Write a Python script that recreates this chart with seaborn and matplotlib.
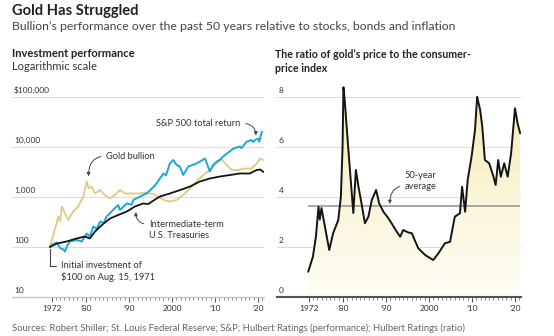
import numpy as np
import pandas as pd
import matplotlib
matplotlib.use("Agg")
import matplotlib.pyplot as plt
import matplotlib.transforms as mtransforms
from matplotlib.colors import LinearSegmentedColormap
import seaborn as sns

# ---------------- data ----------------
sp_years = [1971.6, 1972.4, 1973.2, 1974.0, 1974.8, 1975.1, 1975.7, 1976.3, 1977.8, 1979.0, 1980.2, 1980.9, 1981.7,
            1982.5, 1983.3, 1984.1, 1984.8, 1986.3, 1987.5, 1987.9, 1988.7, 1989.5, 1990.6, 1991.0, 1992.6, 1994.1, 1995.7,
            1996.4, 1998.0, 1998.6, 1999.5, 2000.3, 2001.1, 2001.8, 2002.6, 2003.8, 2005.7, 2007.7, 2008.8,
            2009.5, 2010.4, 2011.2, 2011.9, 2014.3, 2015.8, 2016.2, 2017.4, 2018.5, 2018.9, 2019.3, 2020.1, 2020.3, 2020.9]
sp_values = [100, 115, 123, 95, 89, 81, 110, 129, 138, 129, 186, 162, 257,
             230, 324, 300, 407, 550, 692, 550, 640, 741, 700, 871, 1023, 1175, 1585,
             1862, 2951, 2700, 4677, 5495, 4365, 4100, 2754, 4074, 4677, 5888, 3236,
             4300, 5129, 5600, 6457, 9333, 10233, 9500, 12882, 13804, 12600, 13804, 14791, 12800, 20417]

gold_years = [1971.6, 1972.4, 1973.6, 1974.0, 1974.4, 1975.1, 1975.9, 1977.0, 1978.2, 1979.4, 1980.2,
              1980.6, 1981.3, 1982.1, 1983.3, 1984.4, 1985.6, 1986.7, 1987.9, 1989.1, 1990.6, 1992.2,
              1994.1, 1996.0, 1998.0, 1999.5, 2001.1, 2002.6, 2004.2, 2005.7, 2007.3, 2008.8,
              2010.4, 2011.6, 2012.7, 2013.9, 2015.4, 2017.0, 2018.5, 2019.7, 2020.5, 2021.2]
gold_values = [100, 174, 407, 330, 646, 468, 347, 513, 646, 1023, 2042,
               1500, 1622, 1175, 1380, 1096, 933, 1096, 1380, 1175, 1175, 1175,
               1230, 1122, 871, 813, 871, 1096, 1479, 2042, 2754, 3467,
               4677, 5623, 4365, 3467, 3467, 3715, 3715, 4677, 5888, 5495]

tsy_years = [1971.6, 1973.2, 1975.5, 1977.8, 1979.8, 1980.9, 1982.1, 1983.7, 1985.6, 1987.5,
             1989.5, 1991.4, 1993.3, 1994.5, 1995.7, 1997.2, 1999.5, 2001.9, 2004.2, 2006.5,
             2008.8, 2011.2, 2013.5, 2015.8, 2018.1, 2019.7, 2020.5, 2021.3]
tsy_values = [100, 117, 129, 148, 162, 148, 204, 275, 372, 437,
              513, 646, 741, 724, 851, 1023, 1175, 1380, 1622, 2042,
              2344, 2570, 2754, 2951, 2951, 3467, 3548, 3162]

ratio_years = [1971.9, 1973.0, 1973.7, 1974.3, 1974.6, 1975.0, 1975.8, 1976.8, 1977.7, 1978.9, 1979.5,
               1979.9, 1980.1, 1980.4, 1981.2, 1981.8, 1982.4, 1983.0, 1983.6, 1984.3, 1985.1,
               1985.9, 1986.7, 1987.7, 1988.4, 1989.4, 1990.3, 1991.3, 1992.5, 1993.3, 1994.0,
               1995.2, 1996.0, 1997.5, 1999.1, 2001.0, 2002.2, 2003.7, 2004.9, 2006.0, 2007.2,
               2007.7, 2008.4, 2009.0, 2009.9, 2010.7, 2011.2, 2011.9, 2012.4, 2013.0, 2014.0,
               2015.0, 2015.5, 2016.1, 2016.7, 2017.5, 2018.3, 2019.1, 2020.0, 2020.6, 2021.2]
ratio_values = [1.01, 1.61, 2.41, 3.61, 3.1, 3.56, 2.81, 1.88, 2.55, 3.08, 4.0,
                6.0, 8.39, 7.88, 6.0, 4.68, 3.36, 5.08, 4.41, 3.75, 2.95,
                3.21, 3.88, 4.28, 3.75, 3.41, 3.21, 2.95, 2.61, 2.41, 2.68,
                2.58, 2.55, 1.95, 1.68, 1.48, 1.75, 2.15, 2.21, 3.21, 3.35,
                4.41, 3.41, 4.68, 5.61, 6.68, 8.01, 7.48, 6.81, 5.48, 5.35,
                4.81, 4.48, 5.48, 4.81, 5.35, 4.81, 5.75, 7.55, 6.95, 6.55]
ratio_average = 3.64

left_ticks = [100, 1000, 10000, 100000]
left_tick_labels = ["100", "1,000", "10,000", "$100,000"]
right_ticks = [0, 2, 4, 6, 8]
right_tick_labels = ["0", "2", "4", "6", "8"]
x_major = [1972, 1980, 1990, 2000, 2010, 2020]
x_major_labels = ["1972", "\u201980", "\u201990", "2000", "\u201910", "\u201920"]

# ---------------- styling ----------------
sns.set_theme(style="white")
plt.rcParams['font.family'] = ['Lato', 'DejaVu Sans']

BLUE = "#1ea5dc"
GOLD = "#e2c97e"
BLACK = "#141414"
TXT = "#333333"

W, H = 554, 336
fig = plt.figure(figsize=(W / 100, H / 100), dpi=100)


def rect(x0, y0, x1, y1):
    return [x0 / W, 1 - y1 / H, (x1 - x0) / W, (y1 - y0) / H]


ax1 = fig.add_axes(rect(12, 97, 264, 297))
ax2 = fig.add_axes(rect(277, 84.5, 521, 297))

# ---------------- left panel ----------------
df_sp = pd.DataFrame({"year": sp_years, "value": sp_values})
df_gold = pd.DataFrame({"year": gold_years, "value": gold_values})
df_tsy = pd.DataFrame({"year": tsy_years, "value": tsy_values})

ax1.set_yscale("log")
sns.lineplot(data=df_gold, x="year", y="value", ax=ax1, color=GOLD, lw=1.3, zorder=3)
sns.lineplot(data=df_sp, x="year", y="value", ax=ax1, color=BLUE, lw=1.4, zorder=4)
sns.lineplot(data=df_tsy, x="year", y="value", ax=ax1, color=BLACK, lw=1.3, zorder=5)
ax1.set_ylim(10, 100000)
ax1.set_xlim(1962.8, 2021.4)
ax1.set_yticks(left_ticks)
ax1.yaxis.set_minor_locator(matplotlib.ticker.NullLocator())
ax1.set_yticklabels([])
ax1.tick_params(axis="y", length=0)
ax1.grid(axis="y", color="#dcdcdc", lw=0.8)
ax1.set_xlabel("")
ax1.set_ylabel("")
for s in ["left", "right", "top"]:
    ax1.spines[s].set_visible(False)
ax1.spines["bottom"].set_color("#c4c4c4")
ax1.spines["bottom"].set_linewidth(1.0)

tr1 = mtransforms.blended_transform_factory(ax1.transAxes, ax1.transData)
for v, lab in zip(left_ticks + [10], left_tick_labels + ["10"]):
    ax1.annotate(lab, xy=(0.008, v), xycoords=tr1, xytext=(0, 2.2), textcoords="offset points",
                 ha="left", va="bottom", fontsize=6, color=TXT, annotation_clip=False)

# ---------------- right panel ----------------
df_ratio = pd.DataFrame({"year": ratio_years, "ratio": ratio_values})
poly = ax2.fill_between(ratio_years, ratio_values, 0, color="none", lw=0)
grad = np.linspace(0, 1, 256).reshape(-1, 1)
cmap = LinearSegmentedColormap.from_list("g", ["#fefdf5", "#fbf5d8", "#f6e9ad"])
img = ax2.imshow(grad, extent=[ratio_years[0], ratio_years[-1], 0, max(ratio_values)],
                 origin="lower", aspect="auto", cmap=cmap, zorder=1)
img.set_clip_path(poly.get_paths()[0], transform=ax2.transData)
ax2.hlines(ratio_average, ratio_years[0], ratio_years[-1], color="#9a9a9a", lw=1.2, zorder=2)
sns.lineplot(data=df_ratio, x="year", y="ratio", ax=ax2, color=BLACK, lw=1.4, zorder=5)
ax2.set_xlim(1964.65, 2021.4)
ax2.set_ylim(0, 8.5)
ax2.set_yticks(right_ticks[1:])
ax2.set_yticklabels([])
ax2.tick_params(axis="y", length=0)
ax2.grid(axis="y", color="#dcdcdc", lw=0.8)
ax2.set_xlabel("")
ax2.set_ylabel("")
for s in ["left", "right", "top"]:
    ax2.spines[s].set_visible(False)
ax2.spines["bottom"].set_color("#555555")
ax2.spines["bottom"].set_linewidth(1.5)

tr2 = mtransforms.blended_transform_factory(ax2.transAxes, ax2.transData)
for v, lab in zip(right_ticks, right_tick_labels):
    ax2.annotate(lab, xy=(0.008, v), xycoords=tr2, xytext=(0, 2.2), textcoords="offset points",
                 ha="left", va="bottom", fontsize=6, color=TXT, annotation_clip=False)

# x ticks for both panels
for ax in (ax1, ax2):
    ax.set_xticks(x_major)
    ax.set_xticklabels(x_major_labels)
    ax.set_xticks(list(range(1972, 2022)), minor=True)
    ax.tick_params(axis="x", which="major", length=3.5, width=0.7, color="#555555",
                   direction="out", pad=2.5, labelsize=6, labelcolor=TXT, bottom=True)
    ax.tick_params(axis="x", which="minor", length=2.2, width=0.6, color="#777777",
                   direction="out", bottom=True)
    ax.set_facecolor("white")

# ---------------- annotations ----------------
arrow_kw = dict(arrowstyle="-|>", color="#444444", lw=0.7, mutation_scale=5, shrinkA=1.5, shrinkB=0)
AFS = 6.7

ax1.annotate("S&P 500 total return", xy=(2019.5, 17000), xytext=(2015.9, 30000),
             ha="right", va="center", fontsize=AFS, color=TXT,
             arrowprops=dict(connectionstyle="angle3,angleA=0,angleB=90", relpos=(1, 0.5), **arrow_kw))
ax1.annotate("Gold bullion", xy=(1980.6, 2600), xytext=(1984.7, 6600),
             ha="left", va="center", fontsize=AFS, color=TXT,
             arrowprops=dict(connectionstyle="angle3,angleA=0,angleB=90", relpos=(0, 0.5), **arrow_kw))
ax1.annotate("Intermediate-term\nU.S. Treasuries", xy=(1991.6, 500), xytext=(1994.7, 220),
             ha="left", va="center", fontsize=AFS, color=TXT, linespacing=1.2,
             arrowprops=dict(connectionstyle="angle3,angleA=0,angleB=90", relpos=(0, 0.78), **arrow_kw))
ax1.annotate("Initial investment of\n$100 on Aug. 15, 1971", xy=(sp_years[0], 92), xytext=(1974.2, 32),
             ha="left", va="center", fontsize=AFS, color=TXT, linespacing=1.2,
             arrowprops=dict(arrowstyle="-", color="#444444", lw=0.8, shrinkA=1, shrinkB=0,
                             connectionstyle="angle,angleA=0,angleB=90,rad=0", relpos=(0, 0.78)),
             annotation_clip=False)
ax2.annotate("50-year\naverage", xy=(1990.9, 3.72), xytext=(1994.4, 4.64),
             ha="left", va="center", fontsize=AFS, color=TXT, linespacing=1.2,
             arrowprops=dict(connectionstyle="angle3,angleA=0,angleB=90", relpos=(0, 0.25), **arrow_kw))

# ---------------- titles ----------------
fig.text(12 / W, 1 - 10.5 / H, "Gold Has Struggled", fontsize=10.6, weight="bold", color="#222222", va="center")
fig.text(12 / W, 1 - 27 / H, "Bullion\u2019s performance over the past 50 years relative to stocks, bonds and inflation",
         fontsize=8.8, color="#444444", va="center")
fig.text(12 / W, 1 - 53.5 / H, "Investment performance", fontsize=8, weight="bold", color="#222222", va="center")
fig.text(12 / W, 1 - 67 / H, "Logarithmic scale", fontsize=8, color="#333333", va="center")
fig.text(275 / W, 1 - 55 / H, "The ratio of gold\u2019s price to the consumer-", fontsize=7.7, weight="bold",
         color="#222222", va="center")
fig.text(275 / W, 1 - 69 / H, "price index", fontsize=7.7, weight="bold", color="#222222", va="center")
fig.text(12 / W, 1 - 328 / H,
         "Sources: Robert Shiller; St. Louis Federal Reserve; S&P; Hulbert Ratings (performance); Hulbert Ratings (ratio)",
         fontsize=6.8, color="#666666", va="center")

fig.savefig("out.png", dpi=100, facecolor="white")
